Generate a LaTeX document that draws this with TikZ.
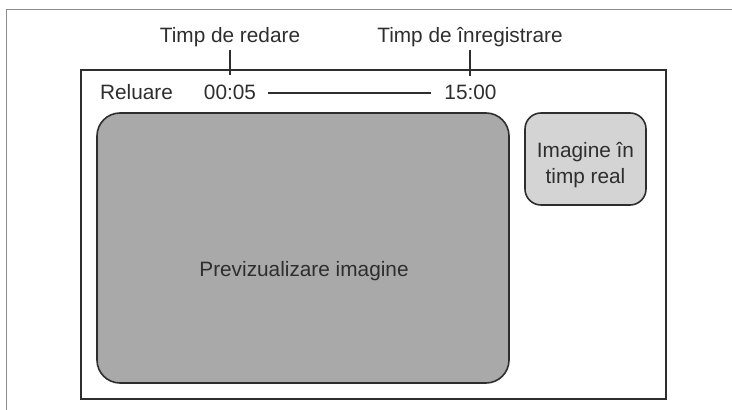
\documentclass[tikz,border=0pt]{standalone}
\usepackage{fontspec}
\setmainfont{Liberation Sans}
\usepackage{tikz}
\usetikzlibrary{positioning, calc}
\definecolor{previewgray}{RGB}{169,169,170}
\definecolor{livegray}{RGB}{212,212,212}
\colorlet{ink}{black!82}
\colorlet{framegray}{black!45}

\begin{document}
\begin{tikzpicture}[x=0.5pt, y=-0.5pt,
    lbl/.style={font=\fontsize{10.4}{13}\selectfont, text=ink},
    tick/.style={line width=1.1pt, ink}]
  \useasboundingbox (0,0) rectangle (732,410);
  % --- outer page frame ---
  \draw[framegray, line width=0.5pt] (6,410) -- (6,10) -- (732,10);
  % --- screen ---
  \draw[ink, line width=1pt] (81,70) rectangle (666,399);
  \draw[ink, line width=0.8pt, fill=previewgray, rounded corners=11.5pt] (97,113) rectangle (509,383);
  \draw[ink, line width=0.8pt, fill=livegray, rounded corners=8pt] (525,113) rectangle (646,205);
  \node[lbl, anchor=base] (preview) at (304,277) {Previzualizare imagine};
  \node[lbl, align=center] (live) at (585.5,165) {Imagine în\\timp real};
  % --- top bar ---
  \node[lbl, anchor=base] (replay) at (136.5,100) {Reluare};
  \node[lbl, anchor=base] (playtime) at (230,100) {00:05};
  \node[lbl, anchor=base] (rectime) at (470.5,100) {15:00};
  \draw[line width=1pt, ink, shorten <=2.5pt, shorten >=3pt] (playtime.east) -- (rectime.west);
  % --- callouts ---
  \node[lbl, anchor=base, inner sep=1pt] (playlabel) at (230,43) {Timp de redare};
  \node[lbl, anchor=base, inner sep=1pt] (reclabel) at (470,43) {Timp de înregistrare};
  \coordinate (playmark) at (230,75);
  \coordinate (recmark) at (470,76);
  \draw[tick] (playlabel.south) -- (playmark);
  \draw[tick] (reclabel.south) -- (recmark);
\end{tikzpicture}
\end{document}
